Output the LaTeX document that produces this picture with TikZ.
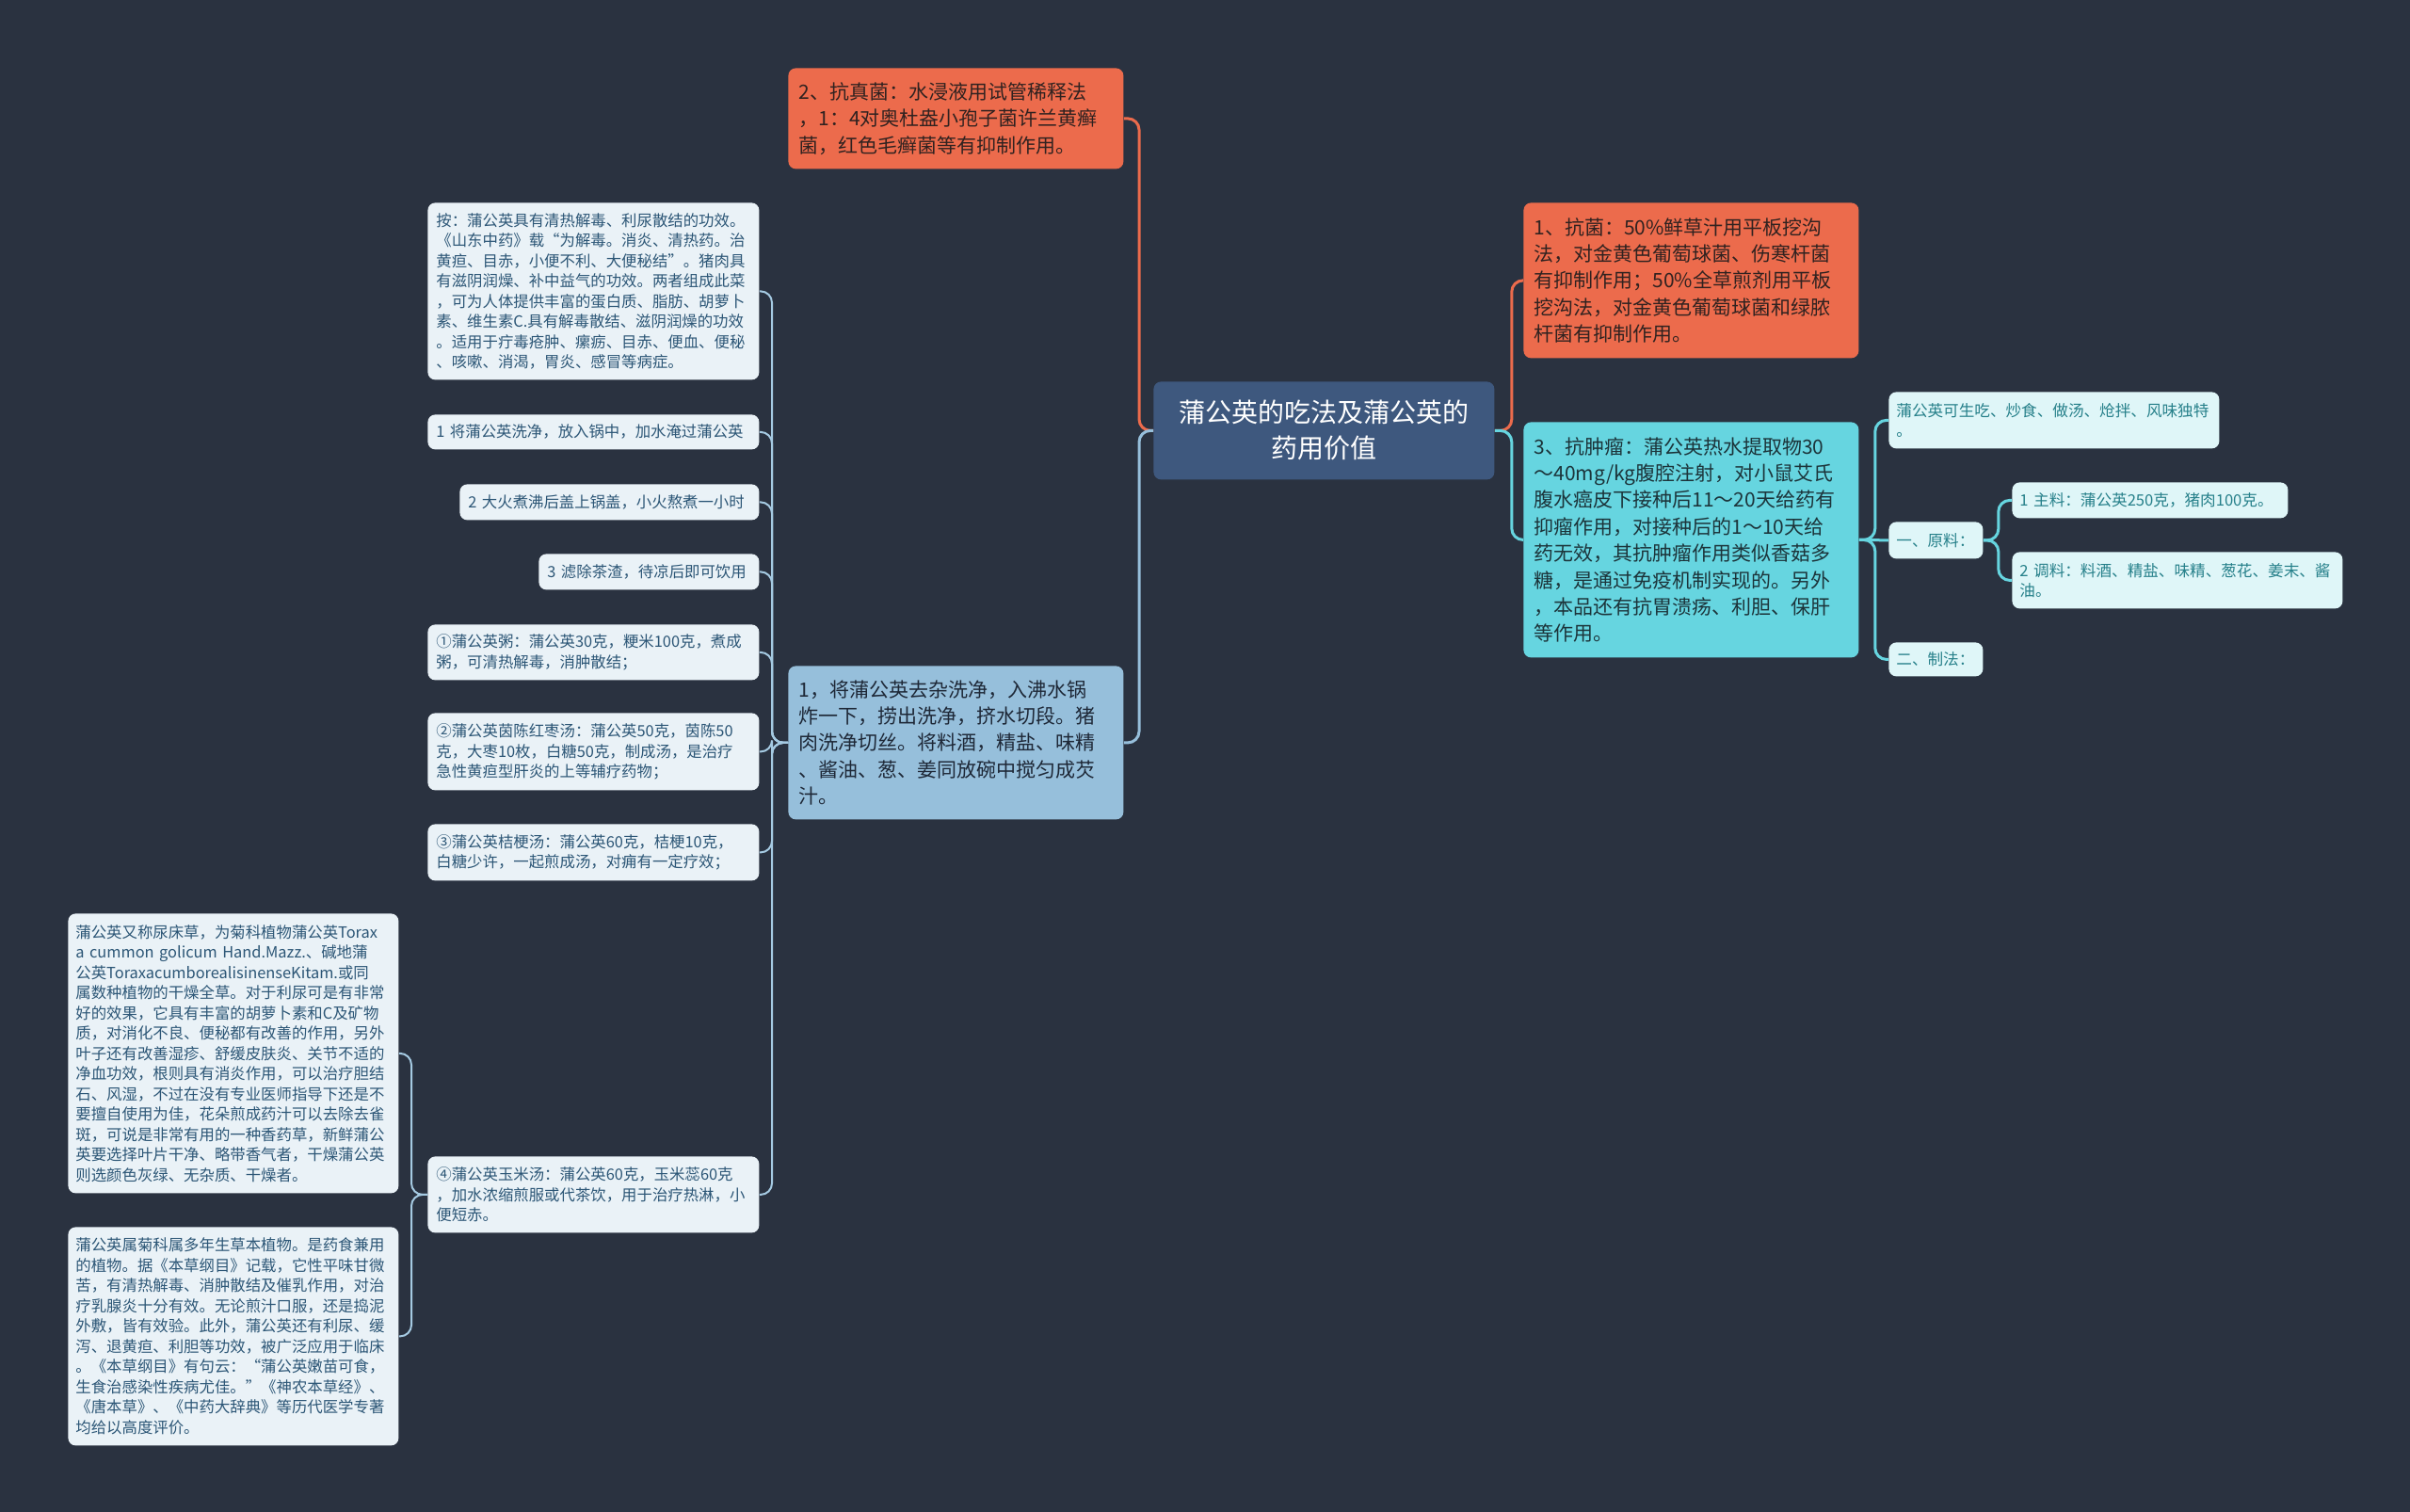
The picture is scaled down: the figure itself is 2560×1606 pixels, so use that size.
\documentclass[tikz,border=0pt]{standalone}
\usepackage{fontspec}
\newfontfamily\cjk{Noto Sans CJK SC}
\usepackage{xcolor}
\definecolor{bgnavy}{RGB}{42,50,64}
\definecolor{rootblue}{RGB}{62,88,126}
\definecolor{hotorange}{RGB}{236,107,76}
\definecolor{skyblue}{RGB}{150,191,219}
\definecolor{aquacyan}{RGB}{102,213,224}
\definecolor{paleblue}{RGB}{234,242,247}
\definecolor{palecyan}{RGB}{223,246,248}
\definecolor{inkblue}{RGB}{44,86,118}
\definecolor{inkteal}{RGB}{38,128,138}
\definecolor{inkdark}{RGB}{48,34,32}
\definecolor{inknavy}{RGB}{30,40,55}
\definecolor{inkdeep}{RGB}{28,52,58}
\definecolor{leafline}{RGB}{165,202,226}

\begin{document}
\begin{tikzpicture}[
    x=0.5pt, y=-0.5pt,
    box/.style={rectangle, rounded corners=4pt, anchor=north west, align=left, inner ysep=2pt},
    rootbox/.style={box, fill=rootblue, text=white, align=center, inner xsep=5pt, text width=171pt, minimum height=52pt, font=\cjk\fontsize{14}{19}\selectfont},
    midbox/.style={box, inner xsep=5.5pt, text width=167pt, font=\cjk\fontsize{10.5}{14.2}\selectfont},
    redbox/.style={midbox, fill=hotorange, text=inkdark},
    bluebox/.style={midbox, fill=skyblue, text=inknavy},
    cyanbox/.style={midbox, fill=aquacyan, text=inkdeep},
    leafbox/.style={box, inner xsep=4.5pt, fill=paleblue, text=inkblue, font=\cjk\fontsize{8.2}{10.75}\selectfont},
    tealbox/.style={box, inner xsep=4pt, fill=palecyan, text=inkteal, font=\cjk\fontsize{8.3}{10.75}\selectfont},
    link/.style={rounded corners=6pt, line width=1.5pt},
    redlink/.style={link, draw=hotorange},
    bluelink/.style={link, draw=skyblue},
    cyanlink/.style={link, draw=aquacyan},
    leaflink/.style={link, line width=1pt, draw=leafline}
]

% Canvas
\fill[bgnavy] (0,0) rectangle (2560,1606);
\useasboundingbox (0,0) rectangle (2560,1606);

% Root
\node[rootbox] (root) at (1225,405) {蒲公英的吃法及蒲公英的\\药用价值};

% Left branch
\node[redbox, minimum height=53.5pt] (fungi) at (837,72) {2、抗真菌：水浸液用试管稀释法\\，1：4对奥杜盎小孢子菌许兰黄癣\\菌，红色毛癣菌等有抑制作用。};
\node[bluebox, minimum height=81.5pt] (recipe) at (837,707) {1，将蒲公英去杂洗净，入沸水锅\\炸一下，捞出洗净，挤水切段。猪\\肉洗净切丝。将料酒，精盐、味精\\、酱油、葱、姜同放碗中搅匀成芡\\汁。};

% Right branch
\node[redbox, minimum height=82.5pt] (bacteria) at (1618,215) {1、抗菌：50\%鲜草汁用平板挖沟\\法，对金黄色葡萄球菌、伤寒杆菌\\有抑制作用；50\%全草煎剂用平板\\挖沟法，对金黄色葡萄球菌和绿脓\\杆菌有抑制作用。};
\node[cyanbox, minimum height=125pt] (tumor) at (1618,448) {3、抗肿瘤：蒲公英热水提取物30\\～40mg/kg腹腔注射，对小鼠艾氏\\腹水癌皮下接种后11～20天给药有\\抑瘤作用，对接种后的1～10天给\\药无效，其抗肿瘤作用类似香菇多\\糖，是通过免疫机制实现的。另外\\，本品还有抗胃溃疡、利胆、保肝\\等作用。};

% Leaves of the recipe
\node[leafbox, text width=167pt, minimum height=94pt] (note) at (454,215) {按：蒲公英具有清热解毒、利尿散结的功效。\\《山东中药》载“为解毒。消炎、清热药。治\\黄疸、目赤，小便不利、大便秘结”。猪肉具\\有滋阴润燥、补中益气的功效。两者组成此菜\\，可为人体提供丰富的蛋白质、脂肪、胡萝卜\\素、维生素C.具有解毒散结、滋阴润燥的功效\\。适用于疔毒疮肿、瘰疬、目赤、便血、便秘\\、咳嗽、消渴，胃炎、感冒等病症。};
\node[leafbox, text width=167pt, minimum height=18.5pt] (stepa) at (454,440) {1 将蒲公英洗净，放入锅中，加水淹过蒲公英};
\node[leafbox, text width=150pt, minimum height=19pt] (stepb) at (488,514) {2 大火煮沸后盖上锅盖，小火熬煮一小时};
\node[leafbox, text width=108pt, minimum height=19pt] (stepc) at (572,588) {3 滤除茶渣，待凉后即可饮用};
\node[leafbox, text width=167pt, minimum height=29.5pt] (porridge) at (454,663) {①蒲公英粥：蒲公英30克，粳米100克，煮成\\粥，可清热解毒，消肿散结；};
\node[leafbox, text width=167pt, minimum height=41pt] (jujube) at (454,757) {②蒲公英茵陈红枣汤：蒲公英50克，茵陈50\\克，大枣10枚，白糖50克，制成汤，是治疗\\急性黄疸型肝炎的上等辅疗药物；};
\node[leafbox, text width=167pt, minimum height=30pt] (platycodon) at (454,875) {③蒲公英桔梗汤：蒲公英60克，桔梗10克，\\白糖少许，一起煎成汤，对痈有一定疗效；};
\node[leafbox, text width=167pt, minimum height=40.5pt] (corn) at (454,1228) {④蒲公英玉米汤：蒲公英60克，玉米蕊60克\\，加水浓缩煎服或代茶饮，用于治疗热淋，小\\便短赤。};

% Leaves of the corn soup
\node[leafbox, inner xsep=4pt, text width=167.5pt, minimum height=148.5pt] (intro) at (72,970) {蒲公英又称尿床草，为菊科植物蒲公英Torax\\a cummon golicum Hand.Mazz.、碱地蒲\\公英ToraxacumborealisinenseKitam.或同\\属数种植物的干燥全草。对于利尿可是有非常\\好的效果，它具有丰富的胡萝卜素和C及矿物\\质，对消化不良、便秘都有改善的作用，另外\\叶子还有改善湿疹、舒缓皮肤炎、关节不适的\\净血功效，根则具有消炎作用，可以治疗胆结\\石、风湿，不过在没有专业医师指导下还是不\\要擅自使用为佳，花朵煎成药汁可以去除去雀\\斑，可说是非常有用的一种香药草，新鲜蒲公\\英要选择叶片干净、略带香气者，干燥蒲公英\\则选颜色灰绿、无杂质、干燥者。};
\node[leafbox, inner xsep=4pt, text width=167.5pt, minimum height=116pt] (history) at (72,1303) {蒲公英属菊科属多年生草本植物。是药食兼用\\的植物。据《本草纲目》记载，它性平味甘微\\苦，有清热解毒、消肿散结及催乳作用，对治\\疗乳腺炎十分有效。无论煎汁口服，还是捣泥\\外敷，皆有效验。此外，蒲公英还有利尿、缓\\泻、退黄疸、利胆等功效，被广泛应用于临床\\。《本草纲目》有句云：“蒲公英嫩苗可食，\\生食治感染性疾病尤佳。”《神农本草经》、\\《唐本草》、《中药大辞典》等历代医学专著\\均给以高度评价。};

% Leaves of the tumor node
\node[tealbox, text width=167.5pt, minimum height=30pt] (eating) at (2006,416) {蒲公英可生吃、炒食、做汤、炝拌、风味独特\\。};
\node[tealbox, text width=42pt, minimum height=19.5pt] (material) at (2006,554) {一、原料：};
\node[tealbox, text width=42pt, minimum height=18pt] (method) at (2006,682) {二、制法：};
\node[tealbox, text width=138.5pt, minimum height=19pt] (mainpart) at (2137,512) {1 主料：蒲公英250克，猪肉100克。};
\node[tealbox, text width=167.5pt, minimum height=30pt] (seasoning) at (2137,586) {2 调料：料酒、精盐、味精、葱花、姜末、酱\\油。};

% Connectors
\draw[redlink] (root.west) -- ++(-15,0) |- (fungi.east);
\draw[bluelink] (root.west) -- ++(-15,0) |- (recipe.east);
\draw[redlink] (root.east) -- ++(18,0) |- (bacteria.west);
\draw[cyanlink] (root.east) -- ++(18,0) |- (tumor.west);
\foreach \leaf in {note,stepa,stepb,stepc,porridge,jujube,platycodon,corn}
  \draw[leaflink] (recipe.west) -- ++(-17,0) |- (\leaf.east);
\foreach \leaf in {intro,history}
  \draw[leaflink] (corn.west) -- ++(-17,0) |- (\leaf.east);
\foreach \leaf in {eating,method}
  \draw[cyanlink] (tumor.east) -- ++(17,0) |- (\leaf.west);
\draw[cyanlink] (tumor.east) -- (material.west);
\foreach \leaf in {mainpart,seasoning}
  \draw[cyanlink] (material.east) -- ++(16,0) |- (\leaf.west);

\end{tikzpicture}
\end{document}
